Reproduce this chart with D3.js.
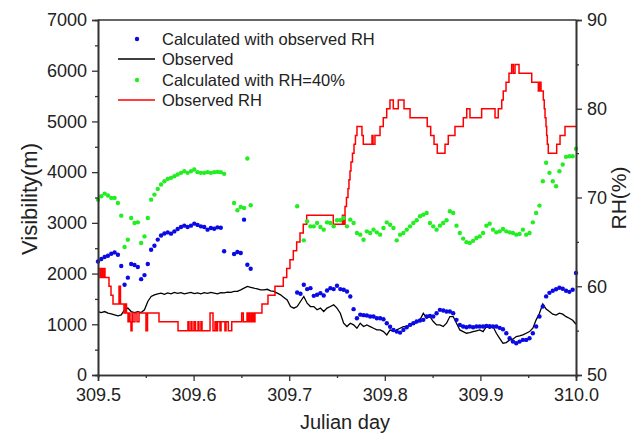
<!DOCTYPE html>
<html><head><meta charset="utf-8">
<script src="https://cdn.jsdelivr.net/npm/d3@7"></script>
<style>
body{margin:0;background:#fff;}
svg{display:block;font-family:"Liberation Sans",Arial,sans-serif;}
</style>
</head><body>
<svg id="chart" width="633" height="437"></svg>
<script>
// ---- data ----
const startDay = 309.5, stepDay = 5 / 1440; // 5-minute sampling
const calcObservedRH = [2239,2286,2326,2352,2391,2417,2372,2150,1780,1920,2190,2170,2130,1890,1970,2190,2470,2550,2670,2750,
 2790,2812,2787,2832,2879,2919,2945,2919,2945,2984,2960,2931,2919,2866,2899,2885,2911,2905,2440,null,
 null,2385,2424,2405,3063,2174,2095,null,null,null,null,null,null,null,null,null,null,null,null,null,
 1627,1601,1779,1694,1713,1561,1581,1614,1568,1666,1713,1694,1759,1694,1680,1647,1548,1298,1120,1190,
 1180,1173,1153,1153,1120,1120,1100,1021,950,889,856,836,889,942,988,1021,1054,1074,1087,1153,
 1166,1153,1219,1285,1271,1252,1252,1219,1087,988,955,942,955,942,955,955,955,968,960,955,
 955,930,902,824,725,659,626,659,692,692,725,824,955,1153,1350,1550,1620,1660,1690,1720,
 1700,1660,1640,1680,2010];
const observedVis = [1251,1232,1251,1219,1206,1186,1166,1186,1285,1318,1251,1232,1251,1232,1285,1449,1548,1581,1600,1614,
 1590,1620,1600,1630,1610,1625,1600,1615,1630,1605,1620,1600,1625,1610,1630,1615,1600,1625,1620,1635,
 1630,1647,1650,1680,1713,1746,1730,1713,1700,1680,1680,1690,1660,1647,1614,1581,1530,1480,1350,1318,
 1350,1449,1548,1416,1350,1350,1285,1318,1251,1318,1350,1383,1318,1219,1021,955,1021,988,922,1021,
 955,988,955,922,889,889,856,790,889,856,889,922,955,955,988,1021,1034,1087,1219,1120,
 1153,1054,988,988,955,1021,1153,1153,1021,889,856,823,836,856,872,889,856,955,922,955,
 823,724,626,639,692,705,757,770,790,823,856,922,1087,1219,1400,1300,1250,1200,1180,1220,
 1200,1150,1120,1080,1000];
const calcRH40 = [3458,3524,3577,3538,3492,3492,3393,3142,2523,2668,3097,2998,3010,2603,2733,3097,3458,3557,3670,3755,
 3820,3867,3887,3919,3953,3986,4018,3986,4018,4051,4000,3986,3986,4000,3986,4000,4005,4000,3966,null,
 null,3393,3248,3313,3294,4269,3346,null,null,null,null,null,null,null,null,null,null,null,null,null,
 3327,null,2655,3030,2931,2931,2998,2918,2866,3010,2998,2931,3050,3050,3097,2931,3063,2998,2800,2767,
 2668,2833,2800,2866,2813,2767,2900,3010,2964,2899,2655,2767,2800,2866,2931,2998,3050,3129,3162,3195,
 2998,2931,2866,2945,2998,3050,3228,3195,2945,2800,2690,2620,2605,2645,2700,2733,2800,2945,2984,2866,
 2813,2833,2879,2833,2813,2800,2767,2780,2866,2767,2800,3010,3195,3340,3820,4184,3986,3820,3722,4018,
 4150,4302,4314,4314,4460];
const rhTimes = [309.5000,309.5021,309.5031,309.5047,309.5063,309.5073,309.5115,309.5136,309.5157,309.5220,
 309.5235,309.5272,309.5288,309.5298,309.5314,309.5324,309.5335,309.5345,309.5356,309.5366,
 309.5387,309.5408,309.5429,309.5502,309.5518,309.5638,309.5837,309.5941,309.5952,309.5973,
 309.5983,309.6004,309.6020,309.6046,309.6056,309.6077,309.6088,309.6172,309.6203,309.6224,
 309.6240,309.6250,309.6276,309.6287,309.6328,309.6339,309.6363,309.6399,309.6503,309.6520,
 309.6559,309.6569,309.6579,309.6590,309.6606,309.6611,309.6616,309.6621,309.6627,309.6632,
 309.6642,309.6715,309.6778,309.6851,309.6938,309.6974,309.7008,309.7043,309.7078,309.7113,
 309.7147,309.7183,309.7461,309.7557,309.7568,309.7584,309.7599,309.7615,309.7625,309.7636,
 309.7646,309.7662,309.7678,309.7693,309.7709,309.7761,309.7775,309.7866,309.7877,309.7897,
 309.7950,309.7984,309.8020,309.8054,309.8089,309.8141,309.8201,309.8264,309.8444,309.8480,
 309.8515,309.8549,309.8630,309.8664,309.8734,309.8821,309.8857,309.8891,309.9013,309.9153,
 309.9187,309.9223,309.9239,309.9268,309.9299,309.9327,309.9344,309.9362,309.9404,309.9537,
 309.9606,309.9618,309.9634,309.9658,309.9668,309.9676,309.9686,309.9693,309.9700,309.9710,
 309.9798,309.9833,309.9885,310.0000];
const rhValues = [62,61,62,61,62,61,60,59,58,60,
 58,57,58,57,56,57,56,55,57,56,
 57,56,57,55,57,56,55,56,55,56,
 55,56,55,56,55,56,55,57,55,56,
 55,56,55,56,55,56,55,56,57,56,
 57,56,57,56,57,56,57,56,57,56,
 57,58,59,60,61,62,63,64,65,66,
 67,68,67,68,67,69,70,71,72,73,
 74,75,76,77,78,77,76,77,76,77,
 78,79,80,81,80,81,80,79,78,77,
 76,75,76,77,78,79,80,79,80,79,
 80,81,82,83,84,85,84,85,84,83,
 82,83,82,81,80,79,78,77,76,75,
 76,77,78,78];
const xTicks = [309.5,309.6,309.7,309.8,309.9,310.0];
const xMinorTicks = [309.55,309.65,309.75,309.85,309.95];
const visTicks = [0,1000,2000,3000,4000,5000,6000,7000];
const visMinorTicks = [500,1500,2500,3500,4500,5500,6500];
const rhTicks = [50,60,70,80,90];
const rhMinorTicks = [55,65,75,85];
const legendLabels = ["Calculated with observed RH","Observed","Calculated with RH=40%","Observed RH"];

// ---- chart ----
const L=98, R=576, T=20, B=375;
const svg = d3.select("#chart");
const x = d3.scaleLinear().domain([309.5,310]).range([L,R]);
const y = d3.scaleLinear().domain([0,7000]).range([B,T]);
const y2 = d3.scaleLinear().domain([50,90]).range([B,T]);
const tOf = i => startDay + i*stepDay;

const axisColor = "#333";
function styleAxis(g){
  g.selectAll("path.domain").attr("stroke",axisColor).attr("stroke-width",1.6);
  g.selectAll(".tick line").attr("stroke",axisColor).attr("stroke-width",1.3);
  g.selectAll(".tick text").attr("fill","#222").style("font-size","18px").style("font-family","'Liberation Sans',Arial,sans-serif");
}

// observed visibility line
const visPts = observedVis.map((v,i)=>[tOf(i),v]);
svg.append("path").datum(visPts)
  .attr("fill","none").attr("stroke","#000").attr("stroke-width",1.3)
  .attr("d", d3.line().x(d=>x(d[0])).y(d=>y(d[1])));

// RH step line
const rhPts = rhTimes.map((t,i)=>[t,rhValues[i]]);
svg.append("path").datum(rhPts)
  .attr("fill","none").attr("stroke","#ff0000").attr("stroke-width",1.5)
  .attr("d", d3.line().curve(d3.curveStepAfter).x(d=>x(d[0])).y(d=>y2(d[1])));

// dots
function dots(arr,color){
  svg.append("g").selectAll("circle")
    .data(arr.map((v,i)=>[tOf(i),v]).filter(d=>d[1]!==null))
    .join("circle").attr("cx",d=>x(d[0])).attr("cy",d=>y(d[1])).attr("r",2.2).attr("fill",color);
}
dots(calcRH40,"#22ee22");
dots(calcObservedRH,"#0a0ae6");

// axes
svg.append("g").attr("transform",`translate(0,${B})`)
  .call(d3.axisBottom(x).tickValues(xMinorTicks).tickSize(3).tickFormat("")).call(styleAxis);
svg.append("g").attr("transform",`translate(0,${B})`)
  .call(d3.axisBottom(x).tickValues(xTicks).tickSize(6).tickPadding(7).tickFormat(d3.format(".1f"))).call(styleAxis);
svg.append("g").attr("transform",`translate(${L},0)`)
  .call(d3.axisLeft(y).tickValues(visMinorTicks).tickSize(3).tickFormat("")).call(styleAxis);
svg.append("g").attr("transform",`translate(${L},0)`)
  .call(d3.axisLeft(y).tickValues(visTicks).tickSize(6).tickPadding(5).tickFormat(d3.format("d"))).call(styleAxis);
svg.append("g").attr("transform",`translate(${R},0)`)
  .call(d3.axisRight(y2).tickValues(rhMinorTicks).tickSize(3).tickFormat("")).call(styleAxis);
svg.append("g").attr("transform",`translate(${R},0)`)
  .call(d3.axisRight(y2).tickValues(rhTicks).tickSize(6).tickPadding(5).tickFormat(d3.format("d"))).call(styleAxis);
// top border
svg.append("line").attr("x1",L).attr("x2",R).attr("y1",T).attr("y2",T)
  .attr("stroke",axisColor).attr("stroke-width",1.6);

// axis titles
svg.append("text").attr("x",345).attr("y",429).attr("text-anchor","middle")
  .style("font-size","20px").attr("fill","#222").text("Julian day");
svg.append("text").attr("transform","translate(37,199) rotate(-90)").attr("text-anchor","middle")
  .style("font-size","22px").attr("fill","#222").text("Visibility(m)");
svg.append("text").attr("transform","translate(626,198) rotate(-90)").attr("text-anchor","middle")
  .style("font-size","21px").attr("fill","#222").text("RH(%)");

// legend
const lg = svg.append("g");
const legendY = [39,59,80,100];
const legendKinds = [["dot","#0a0ae6"],["line","#000"],["dot","#22ee22"],["line","#ff0000"]];
legendLabels.forEach((lab,i)=>{
  const [k,c] = legendKinds[i];
  if(k==="dot") lg.append("circle").attr("cx",137).attr("cy",legendY[i]).attr("r",2.2).attr("fill",c);
  else lg.append("line").attr("x1",118).attr("x2",155).attr("y1",legendY[i]).attr("y2",legendY[i]).attr("stroke",c).attr("stroke-width",1.5);
  lg.append("text").attr("x",162).attr("y",legendY[i]+6).style("font-size","16.5px").attr("fill","#222").text(lab);
});
</script>
</body></html>
